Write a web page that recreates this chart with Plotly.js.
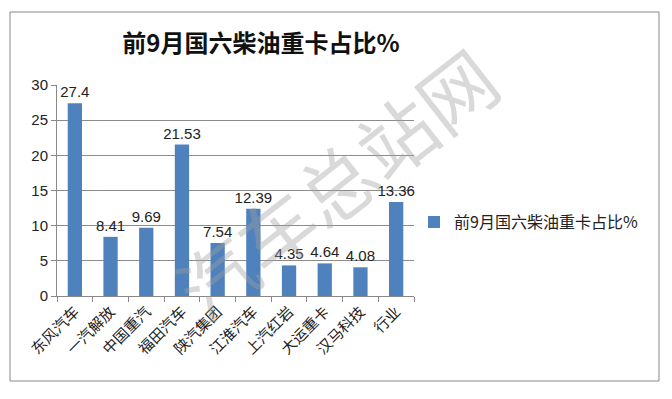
<!DOCTYPE html>
<html>
<head>
<meta charset="utf-8">
<script src="https://cdn.plot.ly/plotly-3.0.1.min.js"></script>
<style>html,body{margin:0;padding:0;background:#fff;}#chart{width:672px;height:399px;}</style>
</head>
<body>
<div id="chart"></div>
<script>
const categories = ["东风汽车","一汽解放","中国重汽","福田汽车","陕汽集团","江淮汽车","上汽红岩","大运重卡","汉马科技","行业"];
const values = [27.4, 8.41, 9.69, 21.53, 7.54, 12.39, 4.35, 4.64, 4.08, 13.36];
const valueLabels = ["27.4","8.41","9.69","21.53","7.54","12.39","4.35","4.64","4.08","13.36"];
const seriesName = "前9月国六柴油重卡占比%";
const chartTitle = "前9月国六柴油重卡占比%";
const yTicks = [0, 5, 10, 15, 20, 25, 30];

const font = '"Liberation Sans", "Noto Sans CJK SC", sans-serif';

const trace = {
  type: 'bar',
  x: categories,
  y: values,
  name: seriesName,
  text: valueLabels,
  textposition: 'outside',
  texttemplate: '%{text}',
  constraintext: 'none',
  cliponaxis: false,
  textfont: {family: font, size: 15, color: '#222'},
  marker: {color: '#4f81bd'},
  hoverinfo: 'none'
};

const layout = {
  width: 672, height: 399,
  margin: {l: 57, r: 258, t: 85, b: 103},
  paper_bgcolor: '#fff', plot_bgcolor: '#fff',
  showlegend: true,
  bargap: 0.6,
  title: {text: '<b>' + chartTitle + '</b>', x: 261/672, xref: 'container', xanchor: 'center',
          y: 1 - 44/399, yref: 'container', yanchor: 'middle',
          font: {family: '"Noto Sans CJK SC", sans-serif', size: 24, color: '#111'}},
  xaxis: {
    type: 'category', tickangle: -45, tickson: 'boundaries',
    ticks: 'outside', ticklen: 5, tickcolor: '#888',
    showline: true, linecolor: '#888', linewidth: 1,
    showgrid: false,
    tickfont: {family: '"Noto Sans CJK SC", sans-serif', size: 15, color: '#222'}
  },
  yaxis: {
    range: [0, 30], tickvals: yTicks, ticktext: yTicks.map(String),
    ticks: 'outside', ticklen: 5, tickcolor: '#888',
    showline: true, linecolor: '#888', linewidth: 1,
    showgrid: true, gridcolor: '#8c8c8c', gridwidth: 1,
    zeroline: false,
    tickfont: {family: font, size: 15, color: '#222'}
  },
  legend: {
    x: 1.0, xanchor: 'left', y: 0.35, yanchor: 'middle',
    font: {family: '"Noto Sans CJK SC", sans-serif', size: 16, color: '#222'},
    bgcolor: 'rgba(0,0,0,0)', itemwidth: 30
  },
  shapes: [{
    type: 'rect', xref: 'paper', yref: 'paper',
    x0: (10-57)/357, x1: (659-57)/357, y0: (296-381)/211, y1: (296-12)/211,
    line: {color: '#888', width: 1}, fillcolor: 'rgba(0,0,0,0)', layer: 'below'
  }],
  annotations: [{
    text: '汽车总站网', xref: 'paper', yref: 'paper',
    x: (335-57)/357, y: (296-182)/211, xanchor: 'center', yanchor: 'middle', showarrow: false,
    textangle: -38,
    font: {family: '"Noto Sans CJK SC", sans-serif', size: 76, color: 'rgba(160,160,160,0.4)'}
  }]
};

Plotly.newPlot('chart', [trace], layout, {staticPlot: true, displayModeBar: false});
</script>
</body>
</html>
